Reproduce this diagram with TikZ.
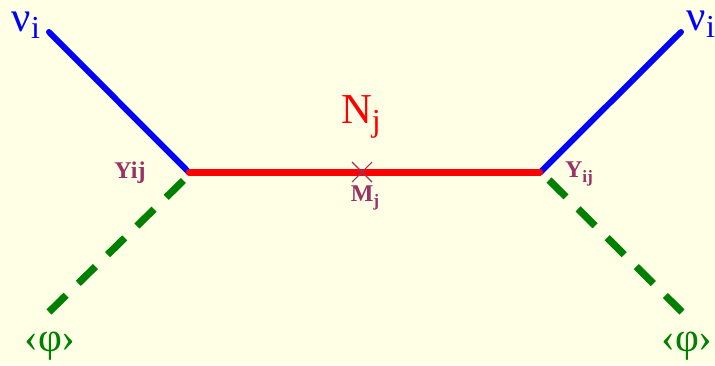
\documentclass[tikz,border=0pt]{standalone}
\usepackage{fontspec}
\usepackage{xcolor}
\setmainfont{Liberation Serif}
\definecolor{paper}{HTML}{FFFFE6}
\definecolor{higgsgreen}{HTML}{008000}
\definecolor{yukawa}{HTML}{993366}
\usetikzlibrary{positioning,calc}

\tikzset{
  neutrino/.style={draw=blue, line width=4.5pt, line cap=round},
  majorana/.style={draw=red, line width=4.6pt, line cap=round},
  higgs/.style={draw=higgsgreen, line width=5.4pt, dash pattern=on 18pt off 12.75pt},
  masscross/.style={draw=yukawa, line width=0.8pt},
  nulabel/.style={text=blue, font=\fontsize{32}{32}\selectfont, inner sep=0pt},
  philabel/.style={text=higgsgreen, font=\fontsize{31}{31}\selectfont, inner sep=0pt},
  couplabel/.style={text=yukawa, font=\bfseries\fontsize{18}{18}\selectfont, inner sep=0pt}
}

\begin{document}
\begin{tikzpicture}[x=0.75pt, y=-0.75pt]
  \useasboundingbox[fill=paper] (0, 0) rectangle (715, 365);

  % Vertices and free line ends
  \coordinate (vleft) at (189, 172.5);
  \coordinate (vright) at (540, 172.5);
  \coordinate (nuleft) at (49, 32);
  \coordinate (nuright) at (681, 32);
  \coordinate (phileft) at (49, 312);
  \coordinate (phiright) at (682, 312);
  \coordinate (hleft) at (188, 176);
  \coordinate (hright) at (549, 180);
  \coordinate (mass) at (362, 172);

  % Higgs legs
  \draw[higgs] (phileft) -- (hleft);
  \draw[higgs] (hright) -- (phiright);

  % Neutrino legs
  \draw[neutrino] (nuleft) -- (vleft);
  \draw[neutrino] (nuright) -- (vright);

  % Heavy neutrino line with mass insertion
  \draw[majorana] (vleft) -- (vright);
  \draw[masscross] ($(mass)+(-10,-10)$) -- ($(mass)+(10,10)$);
  \draw[masscross] ($(mass)+(-10,10)$) -- ($(mass)+(10,-10)$);

  % Labels
  \node[nulabel] (nui) at (26, 25) {ν\raisebox{-0.17em}{\fontsize{24}{24}\selectfont i}};
  \node[nulabel] (nuj) at (701, 24) {ν\raisebox{-0.17em}{\fontsize{24}{24}\selectfont i}};
  \node[text=red, font=\fontsize{32}{32}\selectfont, inner sep=0pt] (heavy) at (361, 117) {N\raisebox{-0.2em}{\fontsize{24}{24}\selectfont j}};
  \node[couplabel] (yleft) at (130, 173) {Yij};
  \node[couplabel] (yright) at (579, 174) {Y\raisebox{-0.2em}{\fontsize{13}{13}\selectfont ij}};
  \node[couplabel] (mj) at (365, 198) {M\raisebox{-0.2em}{\fontsize{13}{13}\selectfont j}};
  \node[philabel] (phil) at (50, 346) {‹φ›};
  \node[philabel] (phir) at (687, 346) {‹φ›};
\end{tikzpicture}
\end{document}
